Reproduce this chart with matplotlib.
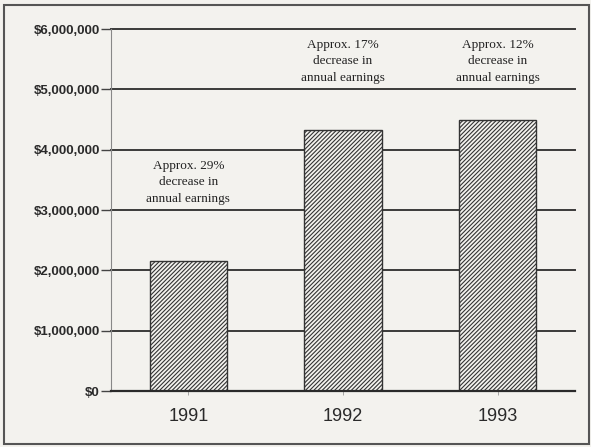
import matplotlib
matplotlib.use('Agg')
import matplotlib.pyplot as plt
from matplotlib.patches import Rectangle

# Data
years = ['1991', '1992', '1993']
earnings = [2150000, 4330000, 4500000]
notes = ['Approx. 29%\ndecrease in\nannual earnings',
         'Approx. 17%\ndecrease in\nannual earnings',
         'Approx. 12%\ndecrease in\nannual earnings']
note_y = [3460000, 5470000, 5470000]
yticks = [0, 1000000, 2000000, 3000000, 4000000, 5000000, 6000000]

bg = '#f3f2ee'
ink = '#333333'

plt.rcParams['hatch.linewidth'] = 0.8
plt.rcParams['hatch.color'] = ink

fig = plt.figure(figsize=(5.91, 4.47), dpi=100, facecolor=bg)
ax = fig.add_axes([0.188, 0.125, 0.785, 0.81])
ax.set_facecolor(bg)

# outer frame
fig.patches.append(Rectangle((0.007, 0.007), 0.99, 0.982, transform=fig.transFigure,
                             fill=False, edgecolor='#555555', linewidth=1.5))

# grid lines behind the bars
for v in yticks[1:]:
    ax.axhline(v, color='#3a3a3a', linewidth=1.4, zorder=1, clip_on=False)

x = range(len(years))
ax.bar(x, earnings, width=0.5, color=bg, edgecolor=ink, hatch='////////',
       linewidth=1.0, zorder=2)

for i, txt in enumerate(notes):
    ax.text(i, note_y[i], txt, ha='center', va='center', fontsize=9.5,
            family='Liberation Serif', color='#222222', linespacing=1.5)

ax.set_xlim(-0.5, 2.5)
ax.set_ylim(0, 6000000)
ax.set_yticks(yticks)
ax.set_yticklabels(['$' + format(v, ',') for v in yticks],
                   fontsize=9.5, fontweight='bold', family='Liberation Sans', color='#2a2a2a')
ax.set_xticks(list(x))
ax.set_xticklabels(years, fontsize=13, family='Liberation Sans', color='#2a2a2a')
ax.tick_params(axis='y', length=7, width=1.0, color='#444444', pad=1)
ax.tick_params(axis='x', length=3, width=0.6, color='#999999', pad=9)

for s in ['top', 'right']:
    ax.spines[s].set_visible(False)
ax.spines['left'].set_color('#888888')
ax.spines['left'].set_linewidth(0.8)
ax.spines['bottom'].set_color('#2a2a2a')
ax.spines['bottom'].set_linewidth(1.6)
ax.spines['bottom'].set_zorder(3)

fig.savefig('out.png', dpi=100, facecolor=bg)
